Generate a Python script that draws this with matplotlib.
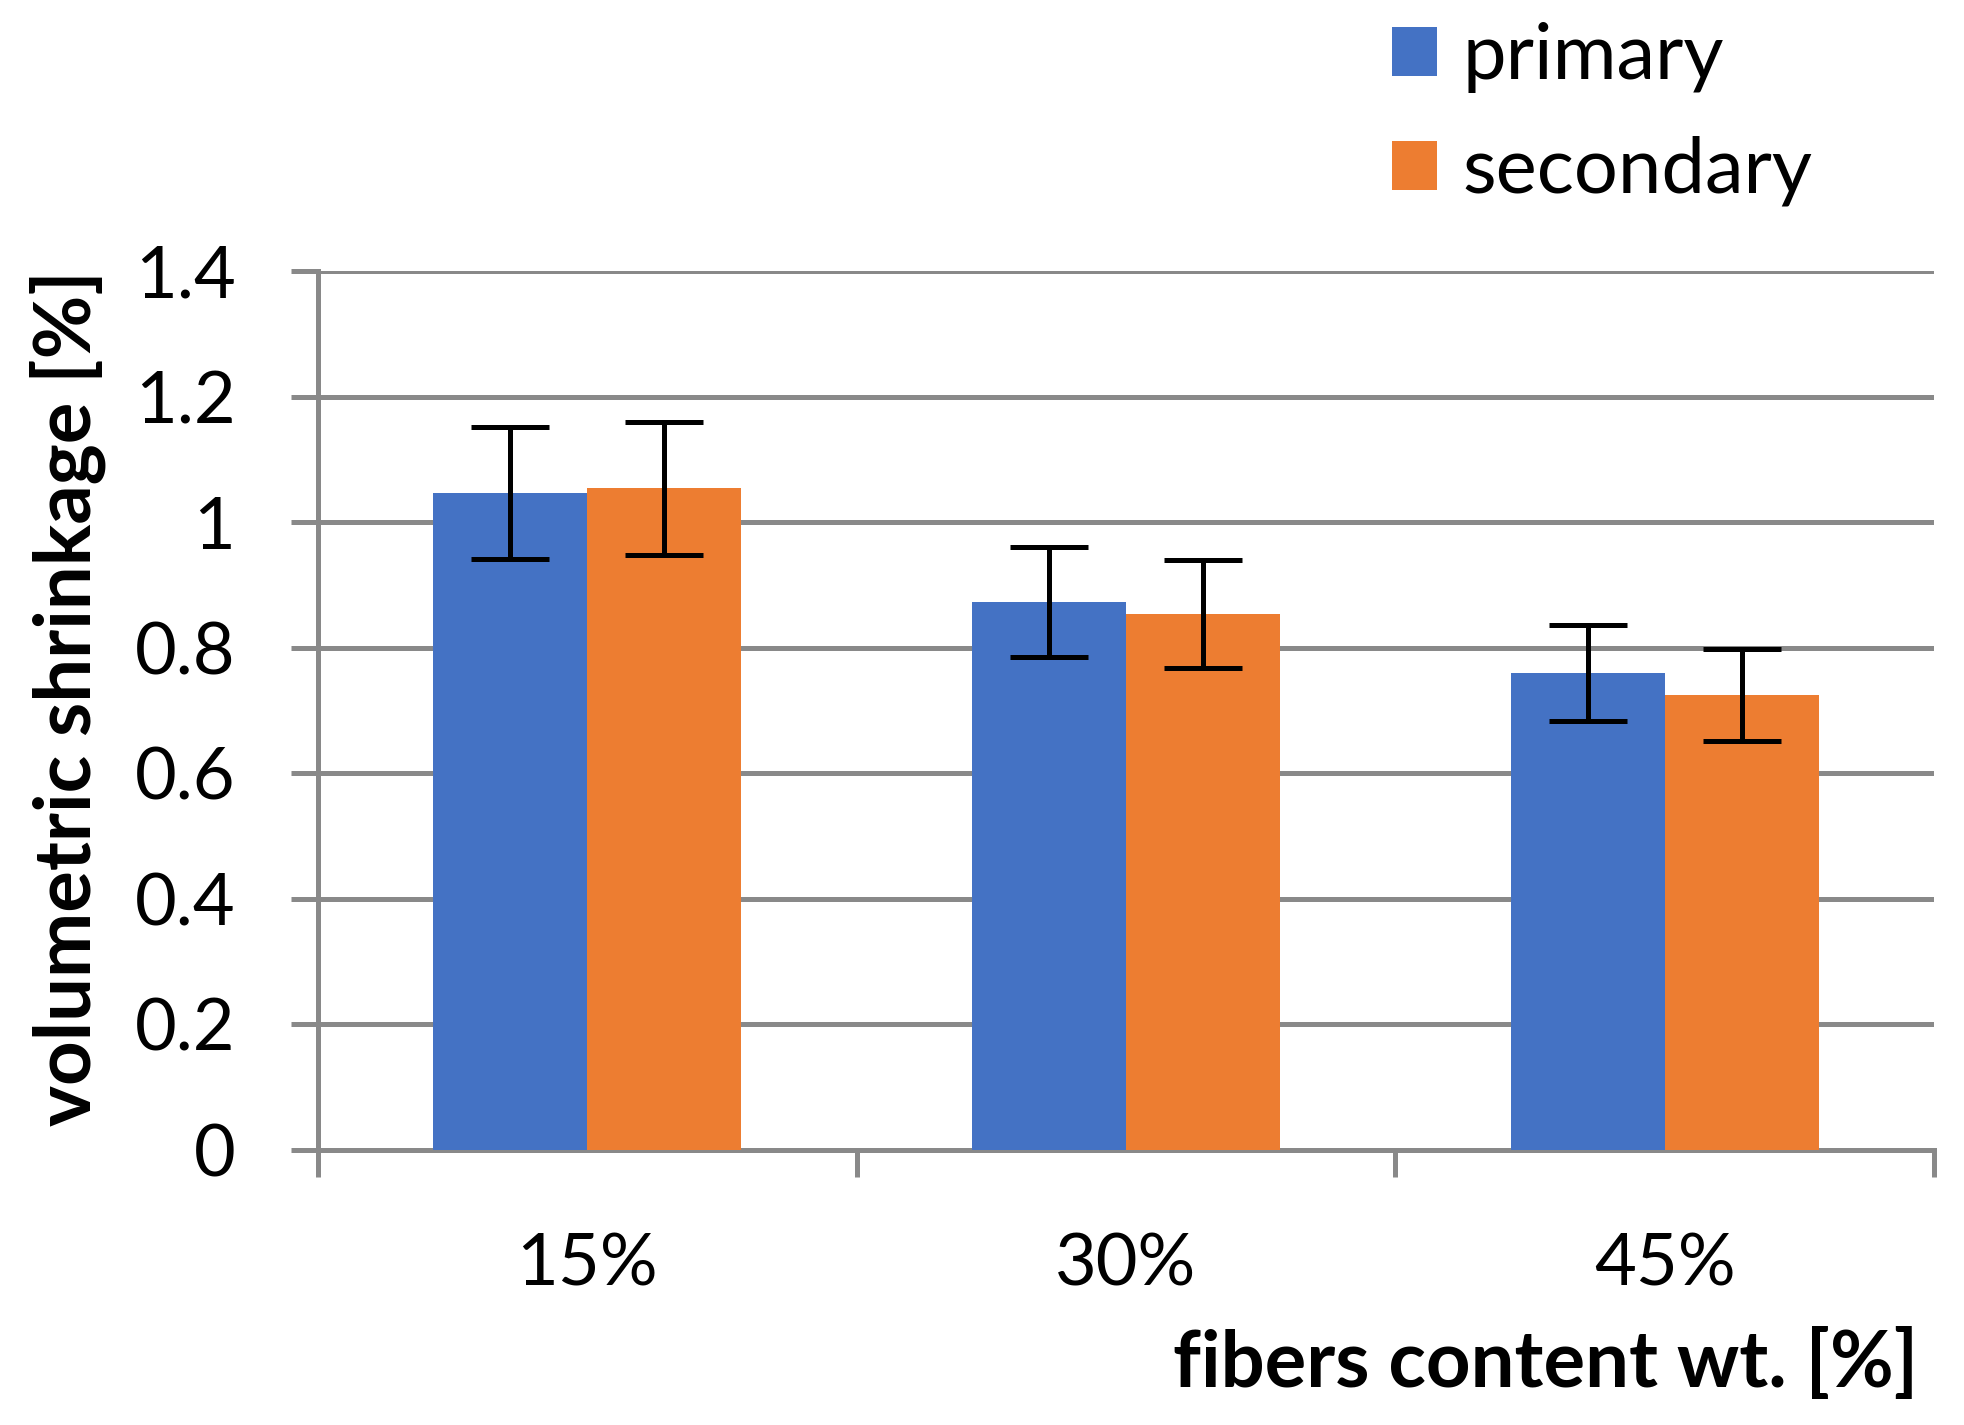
#!/usr/bin/env python3
"""Volumetric shrinkage vs fibers content, primary and secondary."""

import matplotlib

matplotlib.use("Agg")
import matplotlib.pyplot as plt
import numpy as np

categories = ["15%", "30%", "45%"]
primary = [1.046, 0.873, 0.760]
primary_err = [0.105, 0.087, 0.076]
secondary = [1.054, 0.854, 0.725]
secondary_err = [0.106, 0.086, 0.073]
y_ticks = [0, 0.2, 0.4, 0.6, 0.8, 1.0, 1.2, 1.4]
y_tick_labels = ["0", "0.2", "0.4", "0.6", "0.8", "1", "1.2", "1.4"]

BLUE = "#4472C4"
ORANGE = "#ED7D31"
GRID = "#898989"
PX = 72 / 100  # one pixel in points at dpi 100

plt.rcParams["font.family"] = ["Lato", "DejaVu Sans"]

fig = plt.figure(figsize=(19.64, 14.25), dpi=100)
ax = fig.add_axes([318 / 1964, 1 - 1150 / 1425, (1934 - 318) / 1964, (1150 - 271) / 1425])

x = np.arange(len(categories))
width = 0.286
err_style = dict(ecolor="black", elinewidth=5 * PX, capsize=39 * PX, capthick=5 * PX)
b1 = ax.bar(x - width / 2, primary, width, yerr=primary_err, color=BLUE,
            label="primary", error_kw=err_style, zorder=3)
b2 = ax.bar(x + width / 2, secondary, width, yerr=secondary_err, color=ORANGE,
            label="secondary", error_kw=err_style, zorder=3)

ax.set_xlim(-0.5, len(categories) - 0.5)
ax.set_ylim(0, 1.4)

ax.set_yticks(y_ticks, y_tick_labels)
ax.yaxis.grid(True, color=GRID, linewidth=5 * PX, zorder=0)
ax.set_axisbelow(True)
ax.tick_params(axis="y", direction="out", length=27 * PX, width=5 * PX, color=GRID,
               labelsize=52, pad=40)

# category labels at centers, tick marks at category boundaries
ax.set_xticks(x, categories)
ax.tick_params(axis="x", which="major", length=0, labelsize=52, pad=82 * PX)
ax.set_xticks(np.arange(len(categories) + 1) - 0.5, minor=True)
ax.tick_params(axis="x", which="minor", direction="out", length=27 * PX, width=5 * PX, color=GRID)

for side in ("top", "right"):
    ax.spines[side].set_visible(False)
for side in ("left", "bottom"):
    ax.spines[side].set_color(GRID)
    ax.spines[side].set_linewidth(5 * PX)

ax.set_ylabel("volumetric shrinkage [%]", fontsize=56, fontweight="bold")
ax.yaxis.set_label_coords(-0.131, 0.514)
ax.set_xlabel("fibers content wt. [%]", fontsize=56, fontweight="bold", loc="right")
ax.xaxis.set_label_coords(0.99, -0.203)

fig.legend(handles=[b1, b2], loc="upper left", bbox_to_anchor=(1392 / 1964, 1 - 22 / 1425),
           frameon=False, fontsize=56, handlelength=0.58, handleheight=0.58,
           handletextpad=0.32, labelspacing=0.55, borderaxespad=0, borderpad=0)

fig.savefig("out.png", dpi=100)
plt.close(fig)
